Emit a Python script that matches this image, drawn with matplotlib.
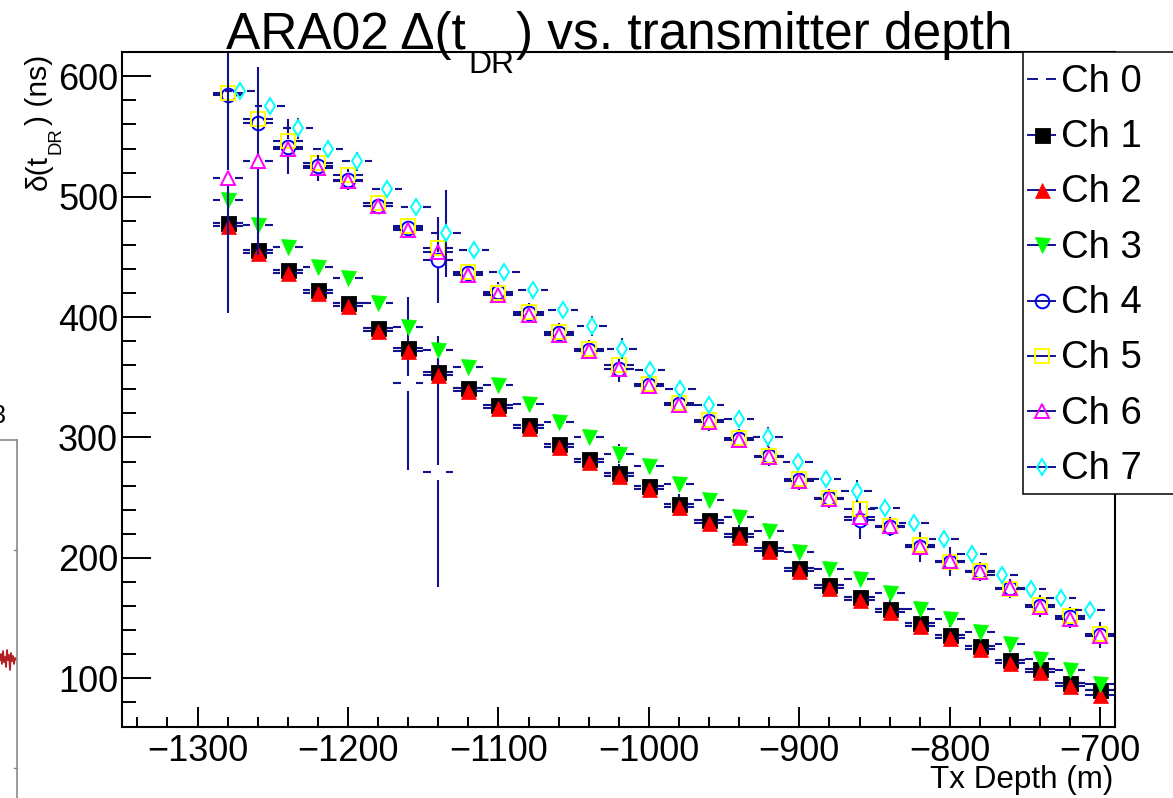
import matplotlib
matplotlib.use('Agg')
import matplotlib.pyplot as plt
import numpy as np
from matplotlib.collections import LineCollection
from matplotlib.lines import Line2D
from matplotlib.patches import Rectangle

plt.rcParams['font.family'] = ['Liberation Sans', 'DejaVu Sans']

# ---------------- data ----------------
depth = [-1280, -1260, -1240, -1220, -1200, -1180, -1160, -1140, -1120, -1100,
         -1080, -1060, -1040, -1020, -1000, -980, -960, -940, -920, -900,
         -880, -860, -840, -820, -800, -780, -760, -740, -720, -700]
depth_ch7 = [-1272, -1252, -1233, -1213, -1194, -1174, -1155, -1135, -1116, -1096,
             -1077, -1057, -1038, -1018, -999, -979, -960, -940, -921, -901,
             -882, -862, -843, -824, -804, -785, -765, -746, -726, -707]
depth_err = 10

ch1 = [478, 455.5, 439, 422.5, 412, 391, 374, 354.5, 341.5, 326.7, 310, 294.7, 282.2, 270.3, 259.4,
       244.7, 231.4, 219.7, 208, 192, 177.5, 167.8, 157.5, 145.7, 136.2, 127.2, 115.6, 107.8, 96.4, 90]
ch0 = [478, 455.5, 439, 422.5, 412, 391, 345, 271, 341.5, 326.7, 310, 294.7, 282.2, 270.3, 259.4,
       244.7, 231.4, 219.7, 208, 192, 177.5, 167.8, 157.5, 145.7, 136.2, 127.2, 115.6, 107.8, 96.4, 90]
ch2 = [475.5, 453, 436.5, 420, 409.5, 388.5, 371.5, 352, 339, 324.2, 307.5, 292.2, 279.7, 267.8, 256.9,
       242.2, 228.9, 217.2, 205.5, 189.5, 175, 165.3, 155, 143.2, 133.7, 124.7, 113.1, 105.3, 93.9, 86.5]
ch3 = [497.5, 476.5, 458, 442, 432.5, 412, 392, 372.5, 358.6, 343.3, 328.1, 312.8, 300.3, 286.4, 276.7,
       261.4, 248.1, 234.2, 222.5, 205, 191, 182.7, 170.8, 157.7, 149.4, 138.3, 128.6, 116.2, 107, 95.5]
ch4 = [584.5, 561.5, 541.5, 525.3, 514.2, 492, 474, 447.5, 436.5, 421, 403.5, 387, 373, 356.5, 344,
       328, 313.5, 299, 284.5, 264.5, 249.5, 231.5, 226, 209, 197, 188.8, 174.8, 160, 150.5, 136]
ch5 = [586.4, 564.2, 546, 528, 518.3, 494.7, 475.3, 457.2, 437.8, 419.7, 404.4, 387.8, 373.9, 360, 344.7,
       329, 314.2, 299.5, 285, 265.3, 250, 240.5, 226.7, 210.8, 196.5, 189.2, 174.2, 160.8, 151.7, 136.5]
ch6 = [515.6, 529.4, 539.2, 523.9, 512.8, 491.9, 472.5, 454.4, 435, 418.3, 401.7, 385, 371.5, 356.5, 343,
       327, 312.8, 297.8, 283.6, 264, 249, 234, 226.7, 209.4, 197.5, 188.6, 174.7, 159.4, 149, 135]
ch7 = [588, 575.3, 556.7, 540, 529.4, 506.7, 491.1, 469.7, 455.8, 437.8, 422.5, 405.8, 392.5, 373.9, 355.8,
       340.6, 326.7, 315.6, 300.3, 279.4, 265.6, 255.3, 241.4, 228.6, 215.6, 203.1, 185.8, 173.9, 166.4, 156.4]

ch0_err = [4, 4, 4, 4, 4, 4, 72, 95, 4, 4, 4, 4, 4, 4, 4, 4, 4, 4, 4, 4, 4, 4, 4, 4, 4, 4, 4, 4, 4, 4]
ch1_err = [5, 5, 5, 5, 5, 5, 5, 5, 5, 5, 5, 5, 5, 8, 5, 8, 5, 8, 5, 5, 5, 5, 8, 5, 8, 5, 8, 8, 5, 5]
ch2_err = [5, 5, 5, 5, 5, 5, 5, 5, 5, 5, 5, 5, 5, 5, 5, 5, 5, 5, 5, 5, 5, 5, 5, 5, 5, 5, 5, 5, 5, 5]
ch3_err = [5, 5, 5, 5, 5, 5, 5, 12, 5, 5, 5, 5, 5, 8, 5, 5, 5, 5, 5, 5, 5, 5, 5, 5, 5, 5, 5, 5, 5, 5]
ch4_err = [5, 5, 23, 9, 9, 5, 5, 36, 8, 8, 8, 8, 8, 10, 8, 8, 8, 8, 8, 8, 8, 16, 8, 12.5, 12, 8, 8, 9, 9, 10.5]
ch5_err = [5, 5, 5, 5, 5, 5, 5, 5, 5, 5, 5, 5, 5, 5, 5, 5, 5, 5, 5, 5, 5, 5, 5, 5, 5, 5, 5, 5, 5, 5]
ch6_err = [112, 78, 5, 11, 5, 5, 5, 5, 5, 5, 5, 5, 5, 5, 5, 5, 5, 5, 5, 5, 5, 5, 5, 5, 5, 5, 5, 5, 5, 5]
ch7_err = [5, 5, 9, 5, 8, 5, 5, 36, 5, 5, 5, 5, 8, 9, 5, 5, 5, 5, 8, 5, 5, 9, 5, 5, 5, 5, 5, 5, 5, 5]

labels = ['Ch 0', 'Ch 1', 'Ch 2', 'Ch 3', 'Ch 4', 'Ch 5', 'Ch 6', 'Ch 7']
xticks = [-1300, -1200, -1100, -1000, -900, -800, -700]
yticks = [100, 200, 300, 400, 500, 600]

# ---------------- styles ----------------
ERR_COL = '#12128f'
styles = [
    dict(marker='None', ms=0, mfc='none', mec='none', mew=0),
    dict(marker='s', ms=10.8, mfc='black', mec='black', mew=0.6),
    dict(marker='^', ms=10.8, mfc='#ff0000', mec='#ff0000', mew=0.5),
    dict(marker='v', ms=10.8, mfc='#00ff00', mec='#00ff00', mew=0.5),
    dict(marker='o', ms=9.8, mfc='none', mec='#0000ff', mew=1.4),
    dict(marker='s', ms=9.8, mfc='none', mec='#ffff00', mew=1.4),
    dict(marker='^', ms=10.4, mfc='none', mec='#ff00ff', mew=1.4),
    dict(marker='d', ms=7.8, mfc='none', mec='#00ffff', mew=1.4),
]

W, H = 1173, 798
fig = plt.figure(figsize=(W / 100, H / 100), dpi=100)
ax = fig.add_axes([122.3 / W, 1 - 726.7 / H, 993 / W, 674.5 / H])
ax.set_xlim(-1350, -690)
ax.set_ylim(59.8, 620)

ax.set_xticks(xticks)
ax.set_xticks(np.arange(-1340, -689, 20), minor=True)
ax.set_yticks(yticks)
ax.set_yticks(np.arange(80, 620, 20), minor=True)
ax.xaxis.set_tick_params(which='major', length=14.4, width=1.4, direction='in', labelsize=26, pad=5)
ax.xaxis.set_tick_params(which='minor', length=7.2, width=1.4, direction='in')
ax.yaxis.set_tick_params(which='major', length=20.9, width=1.4, direction='in', labelsize=26, pad=3)
ax.yaxis.set_tick_params(which='minor', length=10.4, width=1.4, direction='in')
ax.tick_params(top=False, right=False, which='both')
for s in ax.spines.values():
    s.set_linewidth(1.5)
    s.set_zorder(50)

# pixel scale to place error-bar gaps around markers (ROOT style)
p0 = ax.transData.transform((-1000, 300))
p1 = ax.transData.transform((-999, 301))
px_per_x = p1[0] - p0[0]
px_per_y = p1[1] - p0[1]
GAP = 7.5
gx = GAP / px_per_x
gy = GAP / px_per_y

series = [(depth, ch0, ch0_err), (depth, ch1, ch1_err), (depth, ch2, ch2_err), (depth, ch3, ch3_err),
          (depth, ch4, ch4_err), (depth, ch5, ch5_err), (depth, ch6, ch6_err), (depth_ch7, ch7, ch7_err)]

for j, ((xs, ys, es), st) in enumerate(zip(series, styles)):
    segs = []
    for x, y, e in zip(xs, ys, es):
        segs.append([(x - depth_err, y), (x - gx, y)])
        segs.append([(x + gx, y), (x + depth_err, y)])
        if e > gy:
            segs.append([(x, y + gy), (x, y + e)])
            segs.append([(x, y - gy), (x, y - e)])
    lc = LineCollection(segs, colors=ERR_COL, linewidths=1.5, zorder=2 + 2 * j)
    ax.add_collection(lc)
    if st['marker'] != 'None':
        ax.plot(xs, ys, linestyle='none', marker=st['marker'], ms=st['ms'], mfc=st['mfc'],
                mec=st['mec'], mew=st['mew'], zorder=3 + 2 * j, clip_on=False)

# ---------------- legend (ROOT TLegend look) ----------------
def fx(px):
    return px / W

def fy(py):
    return 1 - py / H

leg_box = Rectangle((fx(1022.7), fy(494)), fx(1185) - fx(1022.7), fy(52.3) - fy(494),
                    transform=fig.transFigure, facecolor='white', edgecolor='black',
                    linewidth=1.1, zorder=60, clip_on=False)
fig.add_artist(leg_box)
row0, pitch = 79.3, 55.33
for j, (lab, st) in enumerate(zip(labels, styles)):
    yr = row0 + j * pitch
    if j == 0:
        for a, b in [(1028.3, 1036.7), (1046.7, 1055)]:
            fig.add_artist(Line2D([fx(a), fx(b)], [fy(yr), fy(yr)], transform=fig.transFigure,
                                  color=ERR_COL, lw=1.4, zorder=61))
    else:
        fig.add_artist(Line2D([fx(1028.3), fx(1055)], [fy(yr), fy(yr)], transform=fig.transFigure,
                              color=ERR_COL, lw=1.4, zorder=61))
        fig.add_artist(Line2D([fx(1041.7)], [fy(yr)], transform=fig.transFigure, linestyle='none',
                              marker=st['marker'], ms=st['ms'], mfc=st['mfc'], mec=st['mec'],
                              mew=st['mew'], zorder=62))
    fig.text(fx(1060.7), fy(yr + 12.4), lab, fontsize=27.5, ha='left', va='baseline', zorder=63)

# ---------------- titles with ROOT-like subscripts ----------------
fig.canvas.draw()
rend = fig.canvas.get_renderer()

def text_width(s, fs):
    t = fig.text(0, 0, s, fontsize=fs)
    w = t.get_window_extent(rend).width
    t.remove()
    return w

fs_t = 37
sub = 0.62
parts = [("ARA02 \u0394(t", fs_t, 0.0), ("DR", fs_t * sub, 0.46 * fs_t * 100 / 72),
         (") vs. transmitter depth", fs_t, 0.0)]
widths = [text_width(s, f) for s, f, _ in parts]
gap_px = 2
total = sum(widths) + gap_px * 2
xcur = 619.5 - total / 2
base = 49
for (s, f, d), w in zip(parts, widths):
    fig.text(fx(xcur), fy(base + d), s, fontsize=f, ha='left', va='baseline', zorder=70)
    xcur += w + gap_px

# y axis title (rotated)
fs_y = 21.6
yparts = [("\u03b4(t", fs_y, 0.0), ("DR", fs_y * sub, 0.45 * fs_y * 100 / 72), (") (ns)", fs_y, 0.0)]
ywidths = [text_width(s, f) for s, f, _ in yparts]
ycur = 190
ybase_x = 47
for (s, f, d), w in zip(yparts, ywidths):
    fig.text(fx(ybase_x + d), fy(ycur), s, fontsize=f, rotation=90, rotation_mode='anchor',
             ha='left', va='baseline')
    ycur -= w + 1.5

# x axis title
fig.text(fx(1113), fy(788), "Tx Depth (m)", fontsize=22.6, ha='right', va='baseline')

# ---------------- fragment of neighbouring canvas at the left edge ----------------
frag_x = [0, 1, 2, 3, 4, 5, 6, 7, 8, 9, 10, 11, 12, 13, 14, 15, 16]
frag_y = [660, 654, 664, 651, 662, 657, 667, 650, 660, 655, 670, 653, 661, 656, 664, 658, 659]
fig.add_artist(Line2D([fx(v) for v in frag_x], [fy(v) for v in frag_y], transform=fig.transFigure,
                      color='#b22222', lw=1.3))
fig.add_artist(Line2D([fx(0), fx(16.7)], [fy(440), fy(440)], transform=fig.transFigure,
                      color='#8a8a8a', lw=1.2))
fig.add_artist(Line2D([fx(16.7), fx(16.7)], [fy(440), fy(798)], transform=fig.transFigure,
                      color='#8a8a8a', lw=1.2))
for ty in [550, 768]:
    fig.add_artist(Line2D([fx(14), fx(16.7)], [fy(ty), fy(ty)], transform=fig.transFigure,
                          color='#8a8a8a', lw=1.0))
fig.text(fx(6), fy(423), "3", fontsize=18, ha='right', va='baseline')

fig.savefig('out.png', dpi=100)
